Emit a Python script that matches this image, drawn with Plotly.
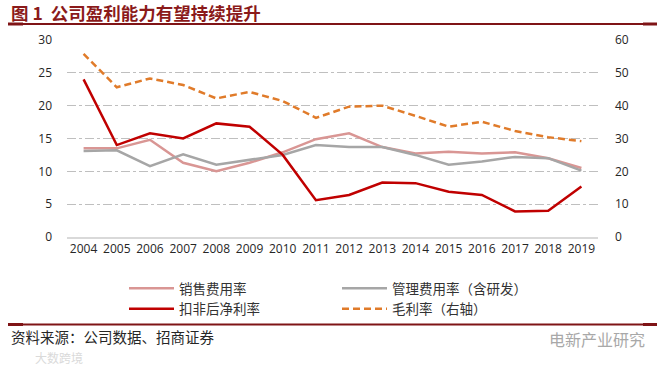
import plotly.graph_objects as go

years = [str(y) for y in range(2004, 2020)]
sales_rate = [13.5, 13.5, 14.8, 11.3, 10.0, 11.3, 12.9, 14.9, 15.8, 13.7, 12.7, 13.0, 12.7, 12.9, 12.0, 10.5]
admin_rate = [13.1, 13.2, 10.8, 12.6, 11.0, 11.7, 12.5, 14.0, 13.7, 13.7, 12.5, 11.0, 11.5, 12.2, 12.0, 10.1]
net_margin = [24.0, 14.0, 15.8, 15.0, 17.3, 16.8, 12.5, 5.6, 6.4, 8.3, 8.2, 6.9, 6.4, 3.9, 4.0, 7.7]
gross_margin = [55.8, 45.6, 48.3, 46.3, 42.2, 44.2, 41.4, 36.3, 39.7, 40.0, 36.9, 33.6, 35.1, 32.3, 30.4, 29.2]

names = ["销售费用率", "管理费用率（含研发）", "扣非后净利率", "毛利率（右轴）"]

W, H = 664, 368
L, R, T, B = 67, 66, 40, 131
PW, PH = W - L - R, H - T - B


def px(x):
    return (x - L) / PW


def py(y):
    return (H - B - y) / PH


fig = go.Figure()
fig.add_trace(go.Scatter(x=years, y=sales_rate, name=names[0], mode="lines",
                         line=dict(color="#D99694", width=2.5), legend="legend"))
fig.add_trace(go.Scatter(x=years, y=admin_rate, name=names[1], mode="lines",
                         line=dict(color="#A6A6A6", width=2.5), legend="legend2"))
fig.add_trace(go.Scatter(x=years, y=net_margin, name=names[2], mode="lines",
                         line=dict(color="#C00000", width=2.5), legend="legend"))
fig.add_trace(go.Scatter(x=years, y=gross_margin, name=names[3], mode="lines",
                         line=dict(color="#E07B2A", width=2.5, dash="7px,4px"),
                         yaxis="y2", legend="legend2"))

tick_font = dict(family="Open Sans, Liberation Sans, sans-serif", size=12, color="#262626")
cjk = "Noto Sans CJK SC, sans-serif"
dark_red = "#7F1416"

legend_common = dict(orientation="v", bgcolor="rgba(0,0,0,0)", borderwidth=0,
                     font=dict(family=cjk, size=13.5, color="#333333"),
                     xanchor="left", yanchor="top", itemwidth=45, tracegroupgap=0)

fig.update_layout(
    width=W, height=H,
    margin=dict(l=L, r=R, t=T, b=B),
    paper_bgcolor="white", plot_bgcolor="white",
    showlegend=True,
    legend=dict(x=px(124), y=py(273), **legend_common),
    legend2=dict(x=px(337), y=py(273), **legend_common),
    xaxis=dict(type="category", showgrid=False, showline=True, linecolor="#D9D9D9",
               linewidth=1.5, ticks="", tickfont=tick_font, tickangle=0,
               range=[-0.5, len(years) - 0.5], fixedrange=True),
    yaxis=dict(range=[0, 30], dtick=5, showgrid=True, gridcolor="#BFBFBF",
               griddash="dashdot", gridwidth=1.3, zeroline=False, showline=False,
               ticks="", tickfont=tick_font, ticklabelstandoff=14),
    yaxis2=dict(range=[0, 60], dtick=10, overlaying="y", side="right",
                showgrid=False, zeroline=False, showline=False, ticks="",
                tickfont=tick_font, ticklabelstandoff=16),
)

shapes = []
for yline in (24, 324.5):
    shapes.append(dict(type="line", xref="paper", yref="paper", x0=px(8), x1=px(657),
                       y0=py(yline), y1=py(yline), line=dict(color=dark_red, width=2)))
    shapes.append(dict(type="rect", xref="paper", yref="paper", x0=px(8), x1=px(23),
                       y0=py(yline + 1.5), y1=py(yline - 1.5), line=dict(width=0),
                       fillcolor=dark_red))
    shapes.append(dict(type="rect", xref="paper", yref="paper", x0=px(643), x1=px(657),
                       y0=py(yline + 1.5), y1=py(yline - 1.5), line=dict(width=0),
                       fillcolor=dark_red))
fig.update_layout(shapes=shapes)

annotations = [
    dict(text="<b>图 1  公司盈利能力有望持续提升</b>", xref="paper", yref="paper",
         x=px(9), y=py(12), xanchor="left", yanchor="middle", showarrow=False,
         font=dict(family=cjk, size=17.5, color="#8B1A1A")),
    dict(text="资料来源：公司数据、招商证券", xref="paper", yref="paper",
         x=px(9), y=py(336), xanchor="left", yanchor="middle", showarrow=False,
         font=dict(family=cjk, size=14.5, color="#262626")),
    dict(text="电新产业研究", xref="paper", yref="paper",
         x=px(547), y=py(339), xanchor="left", yanchor="middle", showarrow=False,
         font=dict(family=cjk, size=16, color="#A8A8A8")),
    dict(text="大数跨境", xref="paper", yref="paper",
         x=px(33), y=py(357), xanchor="left", yanchor="middle", showarrow=False,
         font=dict(family=cjk, size=12, color="#DADADA")),
]
fig.update_layout(annotations=annotations)

fig.write_html("out.html", config={"displayModeBar": False},
               post_script="document.body.style.margin='0';document.body.style.overflow='hidden';")
